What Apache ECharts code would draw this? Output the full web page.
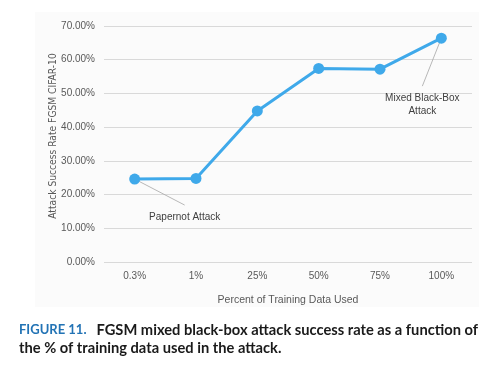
<!DOCTYPE html>
<html><head><meta charset="utf-8">
<script src="https://cdn.jsdelivr.net/npm/echarts@6/dist/echarts.min.js"></script>
<style>html,body{margin:0;padding:0;background:#fff}#c{width:502px;height:367px}</style>
</head><body><div id="c"></div>
<script>
var categories = ['0.3%', '1%', '25%', '50%', '75%', '100%'];
var successRate = [24.6, 24.8, 44.8, 57.4, 57.2, 66.4];
var yTicks = {min: 0, max: 70, interval: 10};
var annotations = [
  {index: 0, text: 'Papernot Attack', dx: 50, dy: 26},
  {index: 5, text: 'Mixed Black-Box\nAttack', dx: -19, dy: 48}
];
var FONT = 'Liberation Sans';
var NARROW = '"Liberation Sans Narrow", "DejaVu Sans Condensed", "Liberation Sans"';
var chart = echarts.init(document.getElementById('c'), null, {renderer: 'canvas'});
var option = {
  animation: false,
  backgroundColor: '#ffffff',
  grid: {left: 104, right: 30, top: 26, bottom: 105},
  title: {
    left: 14, top: 316, itemGap: 0,
    text: '{a|FIGURE 11.}  {b|FGSM mixed black-box attack success rate as a function of}\n{b|the % of training data used in the attack.}',
    textStyle: {
      rich: {
        a: {fontFamily: 'Lato', fontWeight: 'bold', fontSize: 13, color: '#2273b5', lineHeight: 18},
        b: {fontFamily: 'Lato', fontWeight: 'bold', fontSize: 14.7, color: '#1a1a1a', lineHeight: 18}
      }
    }
  },
  xAxis: {
    type: 'category', data: categories, boundaryGap: true,
    axisLine: {show: false}, axisTick: {show: false},
    axisLabel: {color: '#595959', fontSize: 10, fontFamily: FONT, margin: 9},
    name: 'Percent of Training Data Used', nameLocation: 'middle', nameGap: 33, nameMoveOverlap: false,
    nameTextStyle: {color: '#595959', fontSize: 10.5, fontFamily: FONT}
  },
  yAxis: {
    type: 'value', min: yTicks.min, max: yTicks.max, interval: yTicks.interval,
    axisLine: {show: false}, axisTick: {show: false},
    splitLine: {lineStyle: {color: '#d9d9d9', width: 1}},
    axisLabel: {color: '#595959', fontSize: 10, fontFamily: FONT, margin: 9,
      formatter: function (v) { return v.toFixed(2) + '%'; }},
    name: 'Attack Success Rate FGSM CIFAR-10', nameLocation: 'middle', nameGap: 46, nameRotate: 90,
    nameMoveOverlap: false,
    nameTextStyle: {color: '#595959', fontSize: 10.2, fontFamily: NARROW, padding: [0, 0, 0, 16]}
  },
  series: [{
    type: 'line', data: successRate,
    symbol: 'circle', symbolSize: 11,
    lineStyle: {color: '#3fa9ea', width: 3},
    itemStyle: {color: '#3fa9ea'}
  }]
};
chart.setOption(option);
var g = [{type: 'rect', z: -10, silent: true, shape: {x: 35, y: 12, width: 444, height: 295}, style: {fill: '#fbfbfb'}}];
annotations.forEach(function (a) {
  var p = chart.convertToPixel({seriesIndex: 0}, [a.index, successRate[a.index]]);
  var tx = p[0] + a.dx, ty = p[1] + a.dy;
  g.push({type: 'line', silent: true, z: 1, shape: {x1: p[0], y1: p[1], x2: tx, y2: ty}, style: {stroke: '#a6a6a6', lineWidth: 0.8}});
  g.push({type: 'text', silent: true, z: 5, x: tx, y: ty + 6, style: {text: a.text, fill: '#404040', font: '10px ' + FONT, align: 'center', verticalAlign: 'top', lineHeight: 13}});
});
chart.setOption({graphic: g});
</script></body></html>
